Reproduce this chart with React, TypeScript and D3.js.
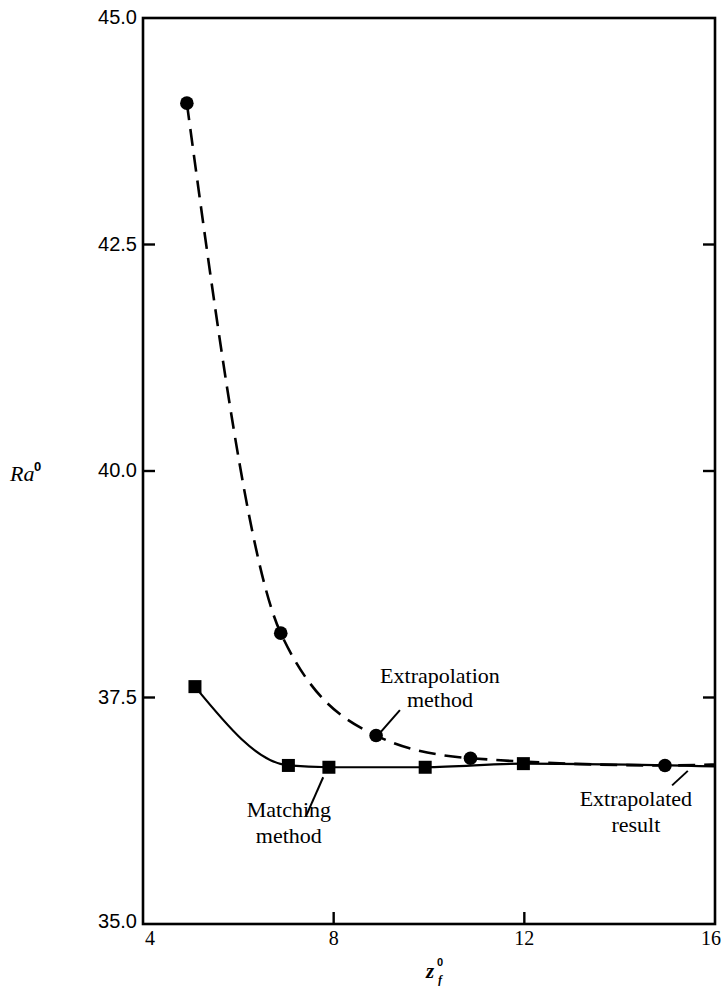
import React from "react";
import * as d3 from "d3";

// ---- data ----
const extrapX = [4.92, 6.89, 8.89, 10.87, 14.95];
const extrapY = [44.06, 38.21, 37.08, 36.83, 36.75];
const extrapEnd = [16, 36.76];

const matchX = [5.09, 7.05, 7.9, 9.92, 11.98];
const matchY = [37.62, 36.75, 36.73, 36.73, 36.77];
const matchEnd = [16, 36.74];

const xTickValues = [4, 8, 12, 16];
const yTickValues = [35, 37.5, 40, 42.5, 45];

// annotations
const annoExtrapLines = ["Extrapolation", "method"];
const annoMatchLines = ["Matching", "method"];
const annoResultLines = ["Extrapolated", "result"];

const W = 723;
const H = 986;
const L = 143, R = 715, T = 18, B = 924;

export default function App() {
  const x = d3.scaleLinear().domain([4, 16]).range([L, R]);
  const y = d3.scaleLinear().domain([35, 45]).range([B, T]);

  const extrapPts: [number, number][] = extrapX.map((v, i) => [v, extrapY[i]]);
  extrapPts.push([extrapEnd[0], extrapEnd[1]]);
  const matchPts: [number, number][] = matchX.map((v, i) => [v, matchY[i]]);
  matchPts.push([matchEnd[0], matchEnd[1]]);

  const line = d3
    .line<[number, number]>()
    .x((d) => x(d[0]))
    .y((d) => y(d[1]))
    .curve(d3.curveMonotoneX);

  const serif = "'Liberation Serif', 'Times New Roman', serif";
  const sans = "'Liberation Sans', Arial, sans-serif";
  const fmt = d3.format(".1f");
  const tickLen = 12;
  const sq = 13;

  const annos = [
    { lines: annoExtrapLines, cx: 10.23, y0: 37.66, y1: 37.4, lead: [[9.39, 37.36], [8.99, 37.12]] },
    { lines: annoMatchLines, cx: 7.06, y0: 36.18, y1: 35.89, lead: [[7.78, 36.62], [7.42, 36.19]] },
    { lines: annoResultLines, cx: 14.34, y0: 36.3, y1: 36.02, lead: [[15.1, 36.53], [15.43, 36.69]] },
  ];

  return (
    <svg
      width={W}
      height={H}
      style={{ position: "absolute", left: 0, top: 0, background: "#fff" }}
    >
      <rect x={0} y={0} width={W} height={H} fill="#fff" />
      {/* frame */}
      <rect x={L} y={T} width={R - L} height={B - T} fill="none" stroke="#000" strokeWidth={2.6} />

      {/* y ticks (left and right, inward) */}
      {yTickValues.map((v) => (
        <g key={"y" + v}>
          {v > 35 && v < 45 && (
            <>
              <line x1={L} x2={L + tickLen} y1={y(v)} y2={y(v)} stroke="#000" strokeWidth={2.4} />
              <line x1={R} x2={R - tickLen} y1={y(v)} y2={y(v)} stroke="#000" strokeWidth={2.4} />
            </>
          )}
          <text
            x={L - 6}
            y={y(v) + (v === 35 ? -1 : 1)}
            textAnchor="end"
            dominantBaseline="middle"
            fontFamily={sans}
            fontSize={20}
            fill="#000"
          >
            {fmt(v)}
          </text>
        </g>
      ))}

      {/* x ticks (bottom, inward) */}
      {xTickValues.map((v, i) => (
        <g key={"x" + v}>
          {v > 4 && v < 16 && (
            <line x1={x(v)} x2={x(v)} y1={B} y2={B - tickLen} stroke="#000" strokeWidth={2.4} />
          )}
          <text
            x={x(v) + (i === 0 ? 7 : i === xTickValues.length - 1 ? -4 : 0)}
            y={B + 21}
            textAnchor="middle"
            fontFamily={serif}
            fontSize={20}
            fill="#000"
          >
            {v}
          </text>
        </g>
      ))}

      {/* curves */}
      <path d={line(matchPts) || ""} fill="none" stroke="#000" strokeWidth={2.2} />
      <path d={line(extrapPts) || ""} fill="none" stroke="#000" strokeWidth={2.6} strokeDasharray="17 9" />

      {/* markers */}
      {extrapX.map((v, i) => (
        <circle key={"c" + i} cx={x(v)} cy={y(extrapY[i])} r={6.8} fill="#000" />
      ))}
      {matchX.map((v, i) => (
        <rect key={"s" + i} x={x(v) - sq / 2} y={y(matchY[i]) - sq / 2} width={sq} height={sq} fill="#000" />
      ))}

      {/* annotations */}
      {annos.map((a, i) => (
        <g key={"a" + i}>
          <text x={x(a.cx)} y={y(a.y0)} textAnchor="middle" fontFamily={serif} fontSize={22} fill="#000">
            {a.lines[0]}
          </text>
          <text x={x(a.cx)} y={y(a.y1)} textAnchor="middle" fontFamily={serif} fontSize={22} fill="#000">
            {a.lines[1]}
          </text>
          <line
            x1={x(a.lead[0][0])}
            y1={y(a.lead[0][1])}
            x2={x(a.lead[1][0])}
            y2={y(a.lead[1][1])}
            stroke="#000"
            strokeWidth={2}
          />
        </g>
      ))}

      {/* y axis title */}
      <text x={10} y={481} fontFamily={serif} fontSize={22} fontStyle="italic" fill="#000">
        Ra
      </text>
      <text x={34} y={471} fontFamily={sans} fontSize={13} fontWeight="bold" fill="#000">
        0
      </text>

      {/* x axis title */}
      <text x={426} y={978} fontFamily={serif} fontSize={21} fontStyle="italic" fontWeight="bold" fill="#000">
        z
      </text>
      <text x={437} y={966} fontFamily={sans} fontSize={11} fontWeight="bold" fill="#000">
        0
      </text>
      <text x={438} y={984} fontFamily={serif} fontSize={12} fontStyle="italic" fontWeight="bold" fill="#000">
        f
      </text>
    </svg>
  );
}
